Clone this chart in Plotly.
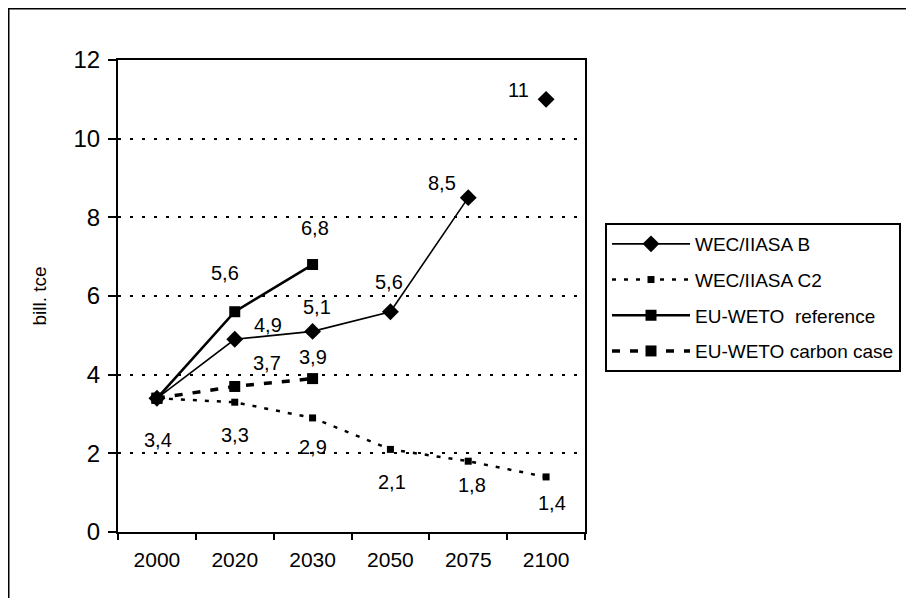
import plotly.graph_objects as go

years = ["2000", "2020", "2030", "2050", "2075", "2100"]
wec_b = [3.4, 4.9, 5.1, 5.6, 8.5, 11]
wec_c2 = [3.4, 3.3, 2.9, 2.1, 1.8, 1.4]
weto_ref = [3.4, 5.6, 6.8]
weto_carbon = [3.4, 3.7, 3.9]
names = ["WEC/IIASA B", "WEC/IIASA C2", "EU-WETO  reference", "EU-WETO carbon case"]
y_ticks = [0, 2, 4, 6, 8, 10, 12]

FONT = "Liberation Sans, Arial, sans-serif"

fig = go.Figure()

fig.add_trace(go.Scatter(
    x=years[:5], y=wec_b[:5], name=names[0], legendgroup="b",
    mode="lines+markers", line=dict(color="black", width=1.6),
    marker=dict(symbol="diamond", size=13, color="black")))
fig.add_trace(go.Scatter(
    x=years[5:], y=wec_b[5:], name=names[0], legendgroup="b", showlegend=False,
    mode="markers", marker=dict(symbol="diamond", size=13, color="black")))
fig.add_trace(go.Scatter(
    x=years, y=wec_c2, name=names[1], legendgroup="c2",
    mode="lines+markers", line=dict(color="black", width=2.5, dash="4px,8px"),
    marker=dict(symbol="square", size=7, color="black")))
fig.add_trace(go.Scatter(
    x=years[:len(weto_ref)], y=weto_ref, name=names[2], legendgroup="ref",
    mode="lines+markers", line=dict(color="black", width=2.6),
    marker=dict(symbol="square", size=11, color="black")))
fig.add_trace(go.Scatter(
    x=years[:len(weto_carbon)], y=weto_carbon, name=names[3], legendgroup="cc",
    mode="lines+markers", line=dict(color="black", width=3.5, dash="8px,10px"),
    marker=dict(symbol="square", size=11, color="black")))

def fmt(v):
    return ("%g" % v).replace(".", ",")

# label offsets (pixels) per series point index
b_off = {1: (33, 14), 2: (4, 24), 3: (-1, 30), 4: (-26, 15), 5: (-28, 9)}
c2_off = {0: (1, -42), 1: (0, -33), 2: (0, -29), 3: (2, -33), 4: (4, -24), 5: (6, -26)}
ref_off = {1: (-10, 39), 2: (2, 37)}
cc_off = {1: (32, 23), 2: (0, 22)}

for vals, offs in [(wec_b, b_off), (wec_c2, c2_off), (weto_ref, ref_off), (weto_carbon, cc_off)]:
    for i, (dx, dy) in offs.items():
        fig.add_annotation(x=i, y=vals[i], text=fmt(vals[i]), showarrow=False,
                           xshift=dx, yshift=dy,
                           font=dict(size=20, color="black", family=FONT))

# page has an 8px body margin: figure pixel = screen pixel - 8
W, H = 906, 590
L, T = 110, 52
R = W - 577
B = H - 524
pw, ph = W - L - R, H - T - B

def px2x(px):
    return (px - L) / pw

def py2y(py):
    return (H - B - py) / ph

fig.add_shape(type="rect", xref="paper", yref="paper",
              x0=px2x(0.5), x1=px2x(W + 10), y0=py2y(H + 10), y1=py2y(0.5),
              line=dict(color="black", width=2), layer="below")

fig.update_layout(
    width=W, height=H,
    margin=dict(l=L, r=R, t=T, b=B, autoexpand=False),
    paper_bgcolor="white", plot_bgcolor="white",
    font=dict(family=FONT, color="black"),
    showlegend=True,
    legend=dict(x=px2x(597), y=py2y(215), xanchor="left", yanchor="top",
                bordercolor="black", borderwidth=2, bgcolor="white",
                font=dict(size=19, family=FONT), tracegroupgap=8,
                itemwidth=78, traceorder="grouped"),
    xaxis=dict(type="category", categoryorder="array", categoryarray=years,
               range=[-0.5, 5.5], showline=True, linecolor="black", linewidth=2,
               mirror=True, ticks="outside", tickson="boundaries", ticklen=6,
               tickwidth=2, tickcolor="black", showgrid=False, zeroline=False,
               ticklabelstandoff=8,
               tickfont=dict(size=21, family=FONT)),
    yaxis=dict(range=[0, 12], tickvals=y_ticks, showline=True, linecolor="black",
               linewidth=2, mirror=True, ticks="outside", ticklen=8, tickwidth=2,
               tickcolor="black", showgrid=True, gridcolor="black", gridwidth=2,
               griddash="3px,9px", zeroline=False, ticklabelstandoff=3,
               tickfont=dict(size=24, family=FONT),
               title=dict(text="bill. tce", font=dict(size=19, family=FONT), standoff=22)),
)

fig.write_html("out.html")
